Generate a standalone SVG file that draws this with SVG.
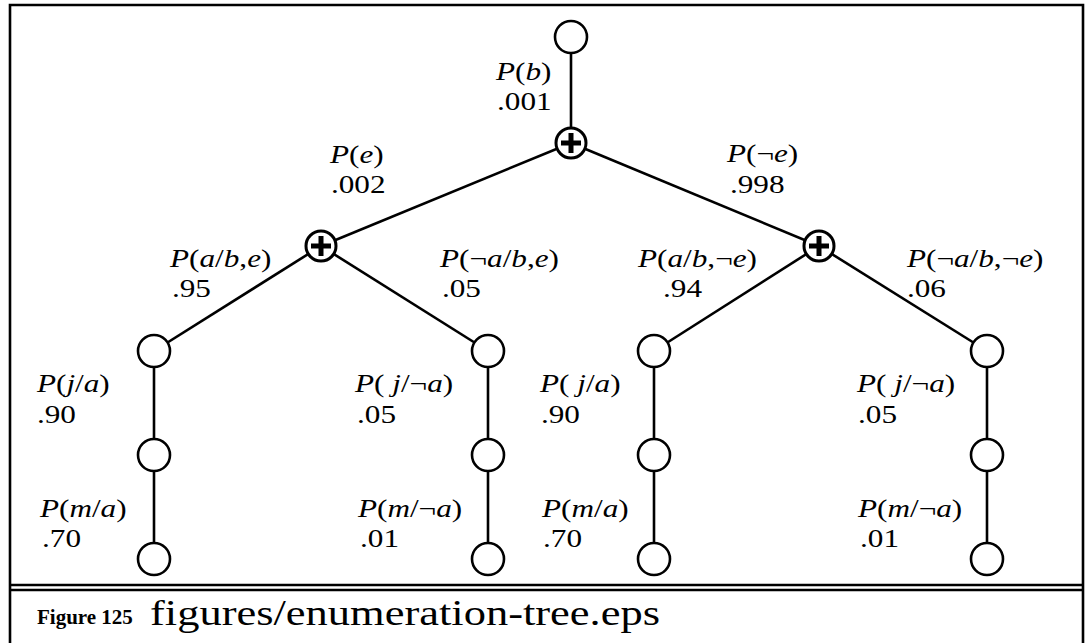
<svg xmlns="http://www.w3.org/2000/svg" width="1087" height="643" viewBox="0 0 1087 643">
<style>
.edge{stroke:#000;stroke-width:2.6;fill:none}
.node{fill:#fff;stroke:#000;stroke-width:2.6}
.sum{fill:#fff;stroke:#000;stroke-width:3}
.plus{stroke:#000;stroke-width:5;fill:none}
.lbl{font-family:"Liberation Serif","Times New Roman",serif;font-size:26px;fill:#000}
.i{font-style:italic}
.frame{stroke:#000;stroke-width:2.6;fill:none}
</style>
<rect width="1087" height="643" fill="#fff"/>
<g id="frame">
<polyline class="frame" points="10,645 10,5 1083,5 1083,645"/>
<line class="frame" x1="10" y1="585" x2="1083" y2="585"/>
<line class="frame" x1="10" y1="590" x2="1083" y2="590"/>
</g>
<g id="connectors">
<line class="edge" x1="571" y1="37" x2="571" y2="143"/>
<line class="edge" x1="571" y1="143" x2="321" y2="246"/>
<line class="edge" x1="571" y1="143" x2="819" y2="246"/>
<line class="edge" x1="321" y1="246" x2="154" y2="351"/>
<line class="edge" x1="321" y1="246" x2="488" y2="351"/>
<line class="edge" x1="819" y1="246" x2="654" y2="351"/>
<line class="edge" x1="819" y1="246" x2="987" y2="351"/>
<line class="edge" x1="154" y1="351" x2="154" y2="559"/>
<line class="edge" x1="488" y1="351" x2="488" y2="559"/>
<line class="edge" x1="654" y1="351" x2="654" y2="559"/>
<line class="edge" x1="987" y1="351" x2="987" y2="559"/>
</g>
<g id="root"><circle class="node" cx="571" cy="37" r="16"/></g>
<g id="sum-b"><circle class="sum" cx="571" cy="143" r="15"/><path class="plus" d="M561,143H581M571,133V153"/></g>
<g id="sum-e"><circle class="sum" cx="321" cy="246" r="15"/><path class="plus" d="M311,246H331M321,236V256"/></g>
<g id="sum-ne"><circle class="sum" cx="819" cy="246" r="15"/><path class="plus" d="M809,246H829M819,236V256"/></g>
<g id="a1-1"><circle class="node" cx="154" cy="351" r="16"/></g>
<g id="a1-2"><circle class="node" cx="154" cy="455" r="16"/></g>
<g id="a1-3"><circle class="node" cx="154" cy="559" r="16"/></g>
<g id="a2-1"><circle class="node" cx="488" cy="351" r="16"/></g>
<g id="a2-2"><circle class="node" cx="488" cy="455" r="16"/></g>
<g id="a2-3"><circle class="node" cx="488" cy="559" r="16"/></g>
<g id="a3-1"><circle class="node" cx="654" cy="351" r="16"/></g>
<g id="a3-2"><circle class="node" cx="654" cy="455" r="16"/></g>
<g id="a3-3"><circle class="node" cx="654" cy="559" r="16"/></g>
<g id="a4-1"><circle class="node" cx="987" cy="351" r="16"/></g>
<g id="a4-2"><circle class="node" cx="987" cy="455" r="16"/></g>
<g id="a4-3"><circle class="node" cx="987" cy="559" r="16"/></g>
<g id="labels" class="lbl" transform="scale(1.2,1)">
<text x="413.3" y="80"><tspan class="i">P</tspan>(<tspan class="i">b</tspan>)</text>
<text x="414.2" y="110">.001</text>
<text x="275" y="163"><tspan class="i">P</tspan>(<tspan class="i">e</tspan>)</text>
<text x="275.8" y="193">.002</text>
<text x="605.8" y="162"><tspan class="i">P</tspan>(¬<tspan class="i">e</tspan>)</text>
<text x="608.3" y="193">.998</text>
<text x="141.7" y="267"><tspan class="i">P</tspan>(<tspan class="i">a</tspan>/<tspan class="i">b</tspan>,<tspan class="i">e</tspan>)</text>
<text x="143.3" y="297">.95</text>
<text x="366.7" y="267"><tspan class="i">P</tspan>(¬<tspan class="i">a</tspan>/<tspan class="i">b</tspan>,<tspan class="i">e</tspan>)</text>
<text x="368.3" y="297">.05</text>
<text x="531.7" y="267"><tspan class="i">P</tspan>(<tspan class="i">a</tspan>/<tspan class="i">b</tspan>,¬<tspan class="i">e</tspan>)</text>
<text x="552.5" y="297">.94</text>
<text x="755.8" y="267"><tspan class="i">P</tspan>(¬<tspan class="i">a</tspan>/<tspan class="i">b</tspan>,¬<tspan class="i">e</tspan>)</text>
<text x="755.8" y="297">.06</text>
<text x="30.8" y="392"><tspan class="i">P</tspan>(<tspan class="i">j</tspan>/<tspan class="i">a</tspan>)</text>
<text x="30.8" y="423">.90</text>
<text x="33.3" y="517"><tspan class="i">P</tspan>(<tspan class="i">m</tspan>/<tspan class="i">a</tspan>)</text>
<text x="35" y="547">.70</text>
<text x="295.8" y="392"><tspan class="i">P</tspan>( <tspan class="i">j</tspan>/¬<tspan class="i">a</tspan>)</text>
<text x="297.5" y="423">.05</text>
<text x="298.3" y="517"><tspan class="i">P</tspan>(<tspan class="i">m</tspan>/¬<tspan class="i">a</tspan>)</text>
<text x="300" y="547">.01</text>
<text x="450" y="392"><tspan class="i">P</tspan>( <tspan class="i">j</tspan>/<tspan class="i">a</tspan>)</text>
<text x="450.8" y="423">.90</text>
<text x="451.7" y="517"><tspan class="i">P</tspan>(<tspan class="i">m</tspan>/<tspan class="i">a</tspan>)</text>
<text x="452.5" y="547">.70</text>
<text x="714.2" y="392"><tspan class="i">P</tspan>( <tspan class="i">j</tspan>/¬<tspan class="i">a</tspan>)</text>
<text x="715" y="423">.05</text>
<text x="715" y="517"><tspan class="i">P</tspan>(<tspan class="i">m</tspan>/¬<tspan class="i">a</tspan>)</text>
<text x="716.7" y="547">.01</text>
</g>
<g id="caption">
<text x="37" y="624" font-family="'Liberation Serif','Times New Roman',serif" font-weight="bold" font-size="21">Figure 125</text>
<text x="150" y="625" font-family="'Liberation Serif','Times New Roman',serif" font-size="36" textLength="510" lengthAdjust="spacingAndGlyphs">figures/enumeration-tree.eps</text>
</g>
</svg>
